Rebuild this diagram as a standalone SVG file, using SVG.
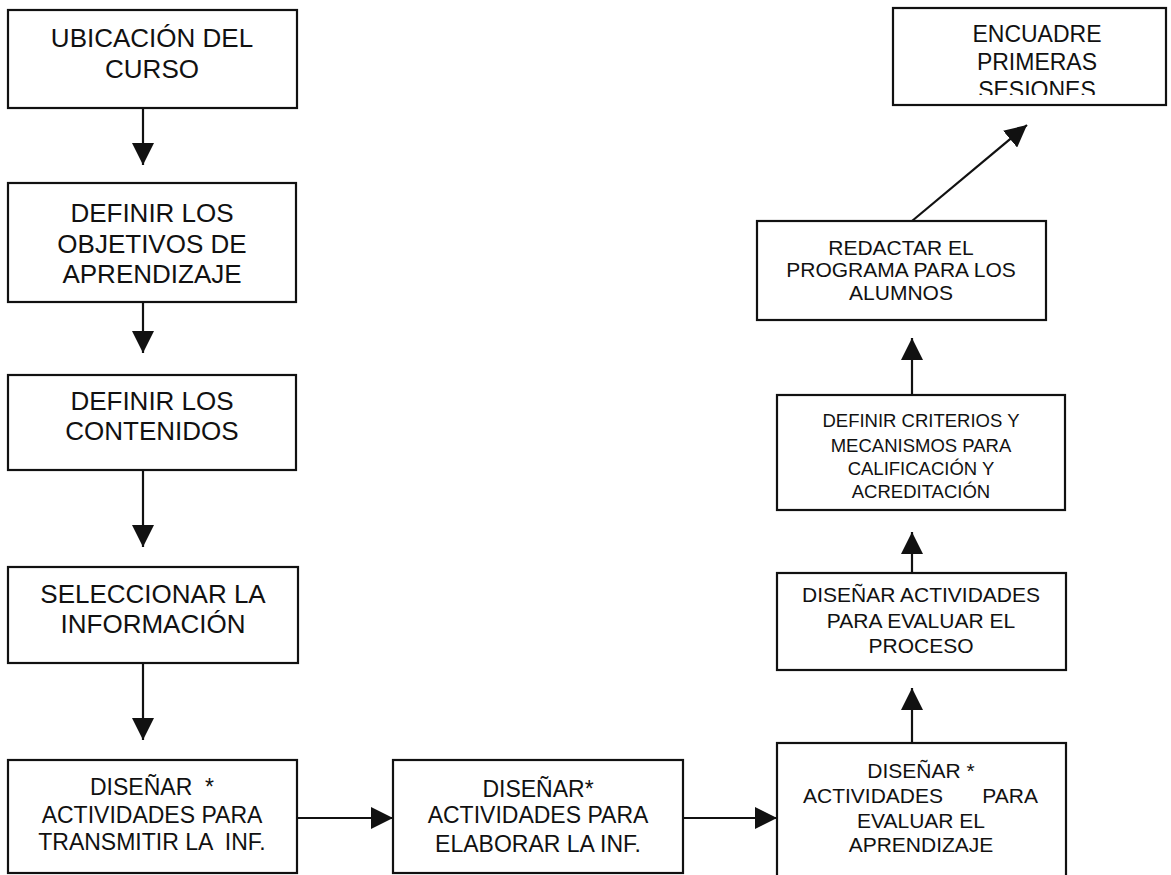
<svg xmlns="http://www.w3.org/2000/svg" width="1171" height="875" viewBox="0 0 1171 875">
<style>
.box{fill:#fff;stroke:#111;stroke-width:2.2}
.t{font-family:"Liberation Sans",Arial,sans-serif;fill:#111;text-anchor:middle}
.l{font-size:26px}
.m{font-size:23px}
.s{font-size:21px}
.xs{font-size:18.5px}
.c{stroke:#111;stroke-width:2.2;fill:none}
</style>
<defs>
<marker id="ah" markerUnits="userSpaceOnUse" markerWidth="22" markerHeight="22" refX="20" refY="10" orient="auto" viewBox="0 0 20 20">
<path d="M0,0 L20,10 L0,20 z" fill="#111"/>
</marker>
<clipPath id="clipE"><rect x="893" y="8" width="273" height="87"/></clipPath>
</defs>
<rect width="1171" height="875" fill="#fff"/>
<g id="connectors">
<line class="c" x1="143" y1="108" x2="143" y2="165" marker-end="url(#ah)"/>
<line class="c" x1="143" y1="302" x2="143" y2="353" marker-end="url(#ah)"/>
<line class="c" x1="143" y1="470" x2="143" y2="547" marker-end="url(#ah)"/>
<line class="c" x1="143" y1="663" x2="143" y2="740" marker-end="url(#ah)"/>
<line class="c" x1="297" y1="818" x2="393" y2="818" marker-end="url(#ah)"/>
<line class="c" x1="683" y1="818" x2="777" y2="818" marker-end="url(#ah)"/>
<line class="c" x1="912" y1="743" x2="912" y2="688" marker-end="url(#ah)"/>
<line class="c" x1="912" y1="573" x2="912" y2="532" marker-end="url(#ah)"/>
<line class="c" x1="912" y1="395" x2="912" y2="338" marker-end="url(#ah)"/>
<line class="c" x1="912" y1="221" x2="1027" y2="125" stroke-width="3" marker-end="url(#ah)"/>
</g>
<g id="n1">
<rect class="box" x="8" y="10" width="289" height="98"/>
<text class="t l" x="152" y="47">UBICACIÓN DEL</text>
<text class="t l" x="152" y="78">CURSO</text>
</g>
<g id="n2">
<rect class="box" x="8" y="183" width="288" height="119"/>
<text class="t l" x="152" y="222">DEFINIR LOS</text>
<text class="t l" x="152" y="253">OBJETIVOS DE</text>
<text class="t l" x="152" y="283">APRENDIZAJE</text>
</g>
<g id="n3">
<rect class="box" x="8" y="375" width="288" height="95"/>
<text class="t l" x="152" y="410">DEFINIR LOS</text>
<text class="t l" x="152" y="440">CONTENIDOS</text>
</g>
<g id="n4">
<rect class="box" x="8" y="567" width="290" height="96"/>
<text class="t l" x="153" y="603">SELECCIONAR LA</text>
<text class="t l" x="153" y="633">INFORMACIÓN</text>
</g>
<g id="n5">
<rect class="box" x="8" y="760" width="289" height="113"/>
<text class="t m" x="152" y="795" xml:space="preserve">DISEÑAR  *</text>
<text class="t m" x="152" y="823">ACTIVIDADES PARA</text>
<text class="t m" x="152" y="850" xml:space="preserve">TRANSMITIR LA  INF.</text>
</g>
<g id="n6">
<rect class="box" x="393" y="760" width="290" height="113"/>
<text class="t m" x="538" y="797">DISEÑAR*</text>
<text class="t m" x="538" y="823">ACTIVIDADES PARA</text>
<text class="t m" x="538" y="852">ELABORAR LA INF.</text>
</g>
<g id="n7">
<rect class="box" x="777" y="743" width="289" height="140"/>
<text class="t s" x="921" y="778">DISEÑAR *</text>
<text class="t s" y="803"><tspan x="803" text-anchor="start">ACTIVIDADES</tspan><tspan x="1038" text-anchor="end"> PARA</tspan></text>
<text class="t s" x="921" y="828">EVALUAR EL</text>
<text class="t s" x="921" y="852">APRENDIZAJE</text>
</g>
<g id="n8">
<rect class="box" x="777" y="573" width="289" height="97"/>
<text class="t s" x="921" y="602">DISEÑAR ACTIVIDADES</text>
<text class="t s" x="921" y="628">PARA EVALUAR EL</text>
<text class="t s" x="921" y="653">PROCESO</text>
</g>
<g id="n9">
<rect class="box" x="777" y="395" width="288" height="115"/>
<text class="t xs" x="921" y="427">DEFINIR CRITERIOS Y</text>
<text class="t xs" x="921" y="452">MECANISMOS PARA</text>
<text class="t xs" x="921" y="475">CALIFICACIÓN Y</text>
<text class="t xs" x="921" y="498">ACREDITACIÓN</text>
</g>
<g id="n10">
<rect class="box" x="757" y="221" width="289" height="99"/>
<text class="t s" x="901" y="255">REDACTAR EL</text>
<text class="t s" x="901" y="277">PROGRAMA PARA LOS</text>
<text class="t s" x="901" y="300">ALUMNOS</text>
</g>
<g id="n11">
<rect class="box" x="893" y="8" width="273" height="97"/>
<g clip-path="url(#clipE)">
<text class="t m" x="1037" y="42">ENCUADRE</text>
<text class="t m" x="1037" y="70">PRIMERAS</text>
<text class="t m" x="1037" y="98">SESIONES</text>
</g>
</g>
</svg>
